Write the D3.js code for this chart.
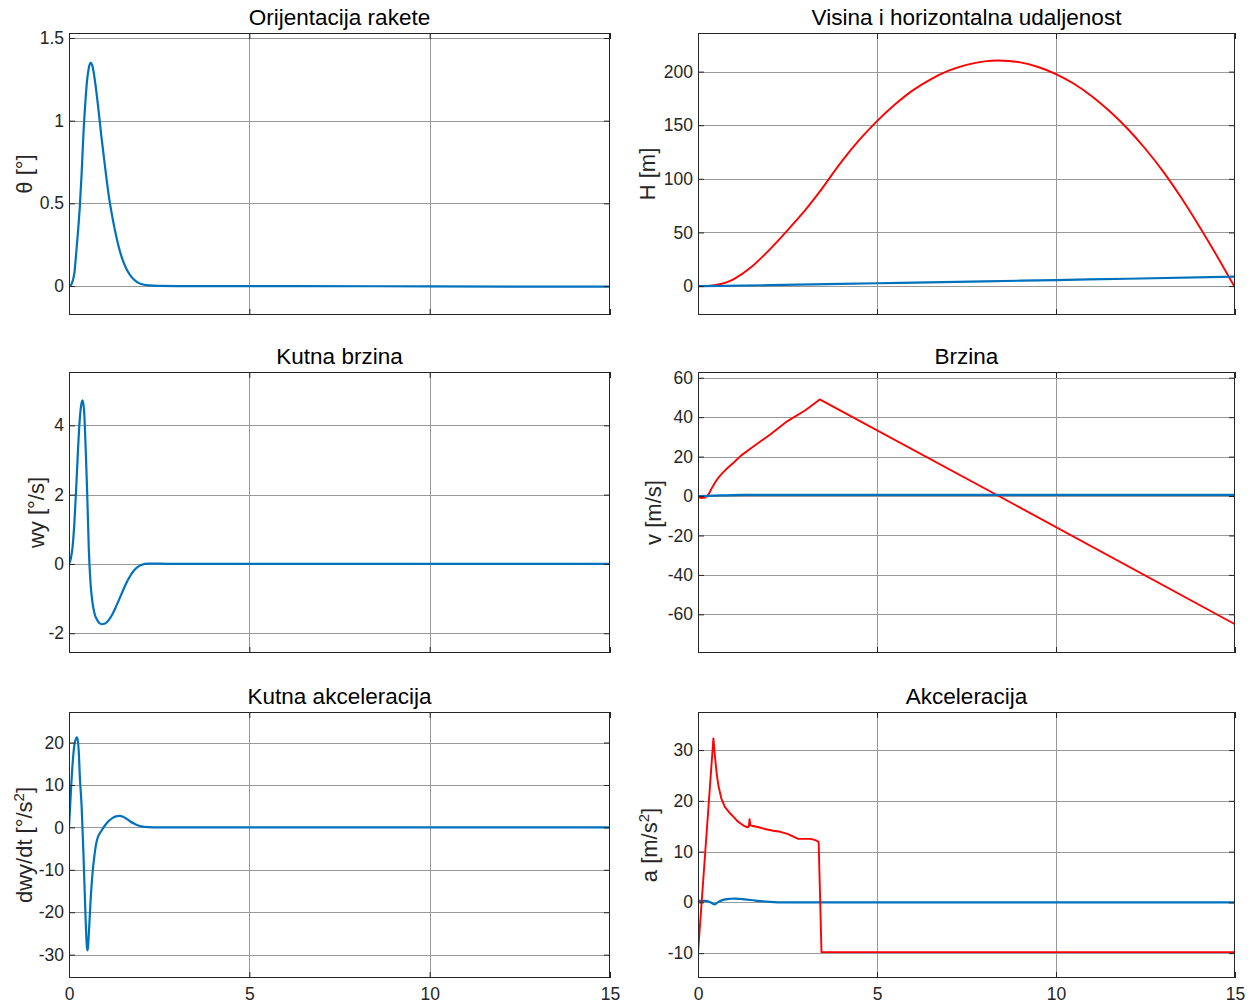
<!DOCTYPE html>
<html>
<head>
<meta charset="utf-8">
<script src="https://cdn.jsdelivr.net/npm/d3@7"></script>
<style>
  html, body { margin: 0; padding: 0; background: #fff; }
  svg { display: block; font-family: "Liberation Sans", Arial, Helvetica, sans-serif; }
</style>
</head>
<body>
<svg id="chart" width="1251" height="1005"></svg>
<script>
// ---------- DATA ----------
const xTicks = [0, 5, 10, 15];

// Orijentacija rakete: theta [deg]
const thetaT = [0, 0.05, 0.1, 0.15, 0.2, 0.25, 0.3, 0.35, 0.4, 0.45, 0.5, 0.55, 0.6, 0.65, 0.7, 0.8, 0.9, 1.0, 1.1, 1.2, 1.3, 1.4, 1.5, 1.6, 1.7, 1.8, 1.9, 2.0, 2.2, 2.5, 3, 6, 10, 15];
const thetaV = [0, 0.005, 0.03, 0.08, 0.2, 0.33, 0.48, 0.68, 0.92, 1.1, 1.24, 1.32, 1.35, 1.33, 1.27, 1.1, 0.9, 0.72, 0.55, 0.42, 0.31, 0.22, 0.15, 0.1, 0.065, 0.04, 0.022, 0.012, 0.004, 0.001, 0, 0, -0.002, -0.004];
const thetaTicks = [0, 0.5, 1, 1.5];

// Visina (H) and horizontal distance
const hT = [0, 0.3, 0.5, 0.75, 1, 1.5, 2, 2.5, 3, 3.4, 4, 4.5, 5, 5.5, 6, 6.5, 7, 7.5, 8, 8.4, 9, 9.5, 10, 10.5, 11, 11.5, 12, 12.5, 13, 13.5, 14, 14.5, 15];
const hV = [0, 0.2, 1, 3, 6.5, 18, 34, 52, 71, 88, 115.6, 136, 153.8, 169.3, 182.5, 192.8, 200.8, 206.3, 209.5, 210.3, 208.6, 204.3, 197.7, 188.7, 177.1, 163, 146.7, 127.8, 106.5, 82.3, 55.8, 27.8, -1.5];
const xdT = [0, 2, 5, 8, 10, 12, 15];
const xdV = [0, 0.8, 2.6, 4.4, 5.6, 6.8, 8.7];
const hTicks = [0, 50, 100, 150, 200];

// Kutna brzina: wy [deg/s]
const wyT = [0, 0.05, 0.1, 0.15, 0.2, 0.25, 0.3, 0.35, 0.38, 0.42, 0.46, 0.5, 0.55, 0.6, 0.65, 0.7, 0.8, 0.9, 1.0, 1.1, 1.2, 1.3, 1.4, 1.5, 1.6, 1.7, 1.8, 1.9, 2.0, 2.2, 2.5, 3, 15];
const wyV = [0, 0.15, 0.5, 1.2, 2.2, 3.3, 4.2, 4.65, 4.72, 4.4, 3.4, 2.2, 0.4, -0.6, -1.1, -1.4, -1.65, -1.74, -1.72, -1.62, -1.46, -1.24, -1.0, -0.76, -0.53, -0.34, -0.19, -0.09, -0.03, 0.01, 0.01, 0, 0];
const wyTicks = [-2, 0, 2, 4];

// Brzina: v [m/s]
const vT = [0, 0.1, 0.2, 0.3, 0.4, 0.5, 0.6, 0.7, 0.8, 1.0, 1.2, 1.5, 2.0, 2.5, 3.0, 3.4, 8.4, 15];
const vV = [-0.5, -1, -0.8, 1, 4.5, 7.5, 10, 12, 13.8, 17, 20.5, 24.5, 31, 38, 43.5, 49, 0, -65];
const vxT = [0, 0.3, 0.6, 1, 2, 15];
const vxV = [0, 0.1, 0.3, 0.5, 0.6, 0.6];
const vTicks = [-60, -40, -20, 0, 20, 40, 60];

// Kutna akceleracija: dwy/dt [deg/s^2]
const dwT = [0, 0.05, 0.1, 0.15, 0.2, 0.23, 0.27, 0.3, 0.35, 0.4, 0.45, 0.5, 0.52, 0.55, 0.6, 0.65, 0.7, 0.75, 0.8, 0.9, 1.0, 1.1, 1.2, 1.3, 1.4, 1.5, 1.6, 1.7, 1.8, 1.9, 2.0, 2.2, 2.5, 15];
const dwV = [0, 8, 15, 19.5, 21, 21.2, 18, 12, 5, -6, -19, -28.5, -29, -25, -17, -11, -7, -4, -2.3, -0.8, 0.5, 1.5, 2.2, 2.6, 2.7, 2.5, 2.0, 1.4, 0.9, 0.5, 0.25, 0.05, 0, 0];
const dwTicks = [-30, -20, -10, 0, 10, 20];

// Akceleracija: a [m/s^2]
const aT = [0, 0.43, 0.47, 0.52, 0.57, 0.65, 0.75, 0.9, 1.0, 1.1, 1.2, 1.3, 1.38, 1.42, 1.44, 1.46, 1.5, 1.7, 1.9, 2.1, 2.3, 2.5, 2.65, 2.8, 3.0, 3.15, 3.3, 3.37, 3.45, 15];
const aV = [-10, 32.3, 29, 25.5, 23, 20.5, 18.8, 17.5, 16.8, 16.0, 15.5, 15.0, 14.8, 14.9, 16.4, 15.2, 15.1, 14.8, 14.4, 14.1, 13.9, 13.5, 13.0, 12.5, 12.5, 12.5, 12.2, 11.9, -9.8, -9.8];
const axT = [0, 0.2, 0.35, 0.47, 0.55, 0.7, 0.9, 1.0, 1.1, 1.3, 1.6, 2.0, 2.5, 15];
const axV = [0.3, 0.3, 0.0, -0.4, 0.0, 0.5, 0.7, 0.75, 0.7, 0.6, 0.35, 0.1, 0, 0];
const aTicks = [-10, 0, 10, 20, 30];

// ---------- LAYOUT ----------
const BLUE = "#0072BD", RED = "#FF0000";
const colX = [[69, 610], [698, 1235]];
const rowY = [[33, 315], [372, 653], [712, 978]];

const panels = [
  { col: 0, row: 0, title: "Orijentacija rakete", ylab: [["θ [°]"]], ylabX: 24, yDom: [-0.175, 1.53], yTicks: thetaTicks,
    series: [{ t: thetaT, v: thetaV, c: BLUE, curve: "mono" }] },
  { col: 1, row: 0, title: "Visina i horizontalna udaljenost", ylab: [["H [m]"]], ylabX: 647, yDom: [-27, 236], yTicks: hTicks,
    series: [{ t: hT, v: hV, c: RED, curve: "cr" }, { t: xdT, v: xdV, c: BLUE, curve: "mono" }] },
  { col: 0, row: 1, title: "Kutna brzina", ylab: [["wy [°/s]"]], ylabX: 36, yDom: [-2.57, 5.54], yTicks: wyTicks,
    series: [{ t: wyT, v: wyV, c: BLUE, curve: "mono" }] },
  { col: 1, row: 1, title: "Brzina", ylab: [["v [m/s]"]], ylabX: 653, yDom: [-79.6, 62.9], yTicks: vTicks,
    series: [{ t: vT, v: vV, c: RED, curve: "lin" }, { t: vxT, v: vxV, c: BLUE, curve: "mono" }] },
  { col: 0, row: 2, title: "Kutna akceleracija", ylab: [["dwy/dt [°/s"], ["2", true], ["]"]], ylabX: 24, yDom: [-35.5, 27.2], yTicks: dwTicks,
    series: [{ t: dwT, v: dwV, c: BLUE, curve: "mono" }] },
  { col: 1, row: 2, title: "Akceleracija", ylab: [["a [m/s"], ["2", true], ["]"]], ylabX: 649, yDom: [-14.9, 37.5], yTicks: aTicks,
    series: [{ t: axT, v: axV, c: BLUE, curve: "mono" }, { t: aT, v: aV, c: RED, curve: "lin" }] }
];

const curves = { mono: d3.curveMonotoneX, cr: d3.curveCatmullRom.alpha(0.5), lin: d3.curveLinear };

const svg = d3.select("#chart");
const TICK = 6;
const AXC = "#262626";
const GRIDC = "#999999";
const fmt = d => String(d);

panels.forEach((p, i) => {
  const [x0, x1] = colX[p.col];
  const [y0, y1] = rowY[p.row];
  const x = d3.scaleLinear().domain([0, 15]).range([x0, x1]);
  const y = d3.scaleLinear().domain(p.yDom).range([y1, y0]);
  const g = svg.append("g");

  // grid
  g.selectAll(".vg").data(xTicks.filter(d => d > 0 && d < 15)).join("line")
    .attr("x1", d => Math.round(x(d)) + 0.5).attr("x2", d => Math.round(x(d)) + 0.5)
    .attr("y1", y0).attr("y2", y1).attr("stroke", GRIDC).attr("stroke-width", 1);
  g.selectAll(".hg").data(p.yTicks).join("line")
    .attr("x1", x0).attr("x2", x1)
    .attr("y1", d => Math.round(y(d)) + 0.5).attr("y2", d => Math.round(y(d)) + 0.5)
    .attr("stroke", GRIDC).attr("stroke-width", 1);

  // clip
  const cid = "clip" + i;
  svg.append("clipPath").attr("id", cid).append("rect")
    .attr("x", x0).attr("y", y0).attr("width", x1 - x0).attr("height", y1 - y0);

  // lines
  p.series.forEach(s => {
    const pts = s.t.map((t, k) => [t, s.v[k]]);
    const line = d3.line().x(d => x(d[0])).y(d => y(d[1])).curve(curves[s.curve]);
    g.append("path").attr("d", line(pts)).attr("fill", "none")
      .attr("stroke", s.c).attr("stroke-width", s.c === BLUE ? 2.2 : 1.9).attr("stroke-linejoin", "round")
      .attr("clip-path", `url(#${cid})`);
  });

  // axes (ticks inward on all sides)
  const left = d3.axisLeft(y).tickValues(p.yTicks).tickSizeInner(-TICK).tickSizeOuter(0)
    .tickPadding(5).tickFormat(fmt);
  const right = d3.axisRight(y).tickValues(p.yTicks).tickSizeInner(-TICK).tickSizeOuter(0).tickFormat("");
  const bottom = d3.axisBottom(x).tickValues(xTicks).tickSizeInner(-TICK).tickSizeOuter(0)
    .tickPadding(10).tickFormat(p.row === 2 ? fmt : "");
  const top = d3.axisTop(x).tickValues(xTicks).tickSizeInner(-TICK).tickSizeOuter(0).tickFormat("");

  const styleAxis = sel => {
    sel.select(".domain").remove();
    sel.selectAll(".tick line").attr("stroke", AXC);
    sel.selectAll(".tick text").attr("fill", "#262626").style("font-size", "17.5px")
      .style("font-family", '"Liberation Sans", Arial, sans-serif');
  };
  g.append("g").attr("transform", `translate(${x0},0)`).call(left).call(styleAxis);
  g.append("g").attr("transform", `translate(${x1},0)`).call(right).call(styleAxis);
  g.append("g").attr("transform", `translate(0,${y1})`).call(bottom).call(styleAxis);
  g.append("g").attr("transform", `translate(0,${y0})`).call(top).call(styleAxis);

  // box
  g.append("rect").attr("x", x0 + 0.5).attr("y", y0 + 0.5)
    .attr("width", x1 - x0 - 1).attr("height", y1 - y0 - 1)
    .attr("fill", "none").attr("stroke", AXC).attr("stroke-width", 1);

  // title
  g.append("text").attr("x", (x0 + x1) / 2).attr("y", y0 - 8)
    .attr("text-anchor", "middle").attr("fill", "#000")
    .style("font-size", "22.5px").text(p.title);

  // y label
  const yl = g.append("text")
    .attr("transform", `translate(${p.ylabX},${(y0 + y1) / 2}) rotate(-90)`)
    .attr("text-anchor", "middle").attr("dy", "0.35em").attr("fill", "#262626")
    .style("font-size", "22px");
  p.ylab.forEach(([txt, sup]) => {
    const ts = yl.append("tspan").text(txt);
    if (sup) ts.attr("baseline-shift", "super").style("font-size", "15px");
  });
});
</script>
</body>
</html>
